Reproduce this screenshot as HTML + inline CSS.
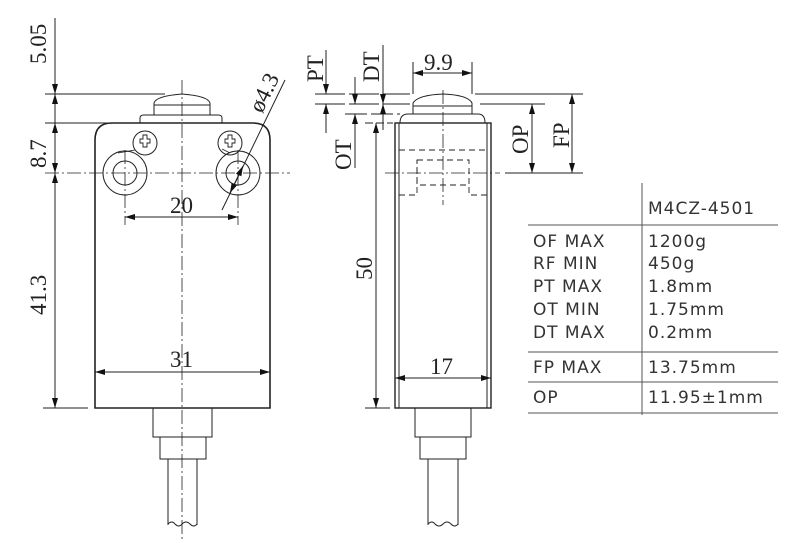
<!DOCTYPE html>
<html><head><meta charset="utf-8"><style>
html,body{margin:0;padding:0;background:#fff;width:800px;height:549px;overflow:hidden}
svg text{font-family:"Liberation Serif",serif;fill:#222}
.t{font-family:"DejaVu Sans","Liberation Sans",sans-serif;font-size:17px;fill:#333;letter-spacing:1px}
</style></head><body>
<svg width="800" height="549" viewBox="0 0 800 549" xmlns="http://www.w3.org/2000/svg">
<defs>
<marker id="a" viewBox="0 0 10 6" refX="10" refY="3" markerWidth="11" markerHeight="6" orient="auto-start-reverse" markerUnits="userSpaceOnUse"><path d="M0,0L10,3L0,6z" fill="#111"/></marker>
</defs>
<g stroke="#222" stroke-width="1" fill="none">
<path d="M95,408 V140 Q95,123 112,123 H253 Q270,123 270,140 V408 Z" stroke-width="1.6"/>
<path d="M140,123 V118 Q140,115 144,115 H218 Q222,115 222,118 V123"/>
<path d="M154,115 V103 Q156,96 182,94 Q208,96 210,103 V115"/>
<line x1="154" y1="105" x2="210" y2="105"/>
<circle cx="125" cy="173" r="22"/><circle cx="125" cy="173" r="12"/>
<circle cx="238" cy="173" r="22"/><circle cx="238" cy="173" r="12"/>
<circle cx="145" cy="143" r="12"/><circle cx="230" cy="143" r="12"/>
<path d="M140,139h3v-4h4v4h3v4h-3v4h-4v-4h-3z M225,139h3v-4h4v4h3v4h-3v4h-4v-4h-3z" stroke-width="0.9"/>
<path d="M135,150 L118,153 M222,149 L230,153" stroke-width="0.8"/>
<rect x="153" y="408" width="59" height="29"/>
<rect x="160" y="437" width="46" height="22"/>
<path d="M168,459 V525 M197,459 V525 M168,524 q4,-4 7,0 q4,4 7,0 q4,-4 8,0 q4,4 7,0" />
<line x1="182" y1="80" x2="182" y2="540" stroke-dasharray="14,3,2,3" stroke-width="0.8"/>
<line x1="45" y1="173" x2="290" y2="173" stroke-dasharray="14,3,2,3" stroke-width="0.8"/>
<line x1="125" y1="150" x2="125" y2="225" stroke-dasharray="14,3,2,3" stroke-width="0.8"/>
<line x1="238" y1="150" x2="238" y2="225" stroke-dasharray="14,3,2,3" stroke-width="0.8"/>
<line x1="45" y1="94" x2="165" y2="94"/>
<line x1="45" y1="123" x2="120" y2="123"/>
<line x1="43" y1="408" x2="88" y2="408"/>
<line x1="55" y1="18" x2="55" y2="94" marker-end="url(#a)"/>
<line x1="55" y1="123" x2="55" y2="94" marker-end="url(#a)"/>
<line x1="55" y1="123" x2="55" y2="173" marker-start="url(#a)" marker-end="url(#a)"/>
<line x1="55" y1="173" x2="55" y2="408" marker-start="url(#a)" marker-end="url(#a)"/>
<line x1="125" y1="217" x2="238" y2="217" marker-start="url(#a)" marker-end="url(#a)"/>
<line x1="95" y1="372" x2="270" y2="372" marker-start="url(#a)" marker-end="url(#a)"/>
<line x1="285" y1="80" x2="222" y2="210"/>
<line x1="230" y1="193" x2="243" y2="166" marker-start="url(#a)" marker-end="url(#a)"/>
<rect x="395" y="123" width="96" height="285" stroke-width="1.4"/>
<line x1="399" y1="123" x2="399" y2="408"/>
<line x1="487" y1="123" x2="487" y2="408"/>
<path d="M400,123 Q400,114 408,114 H478 Q485,114 485,123"/>
<path d="M413,114 V103 Q418,95 443,94 Q468,95 472,103 V114"/>
<line x1="413" y1="106" x2="472" y2="106"/>
<g stroke-dasharray="6,4" stroke-width="0.9">
<line x1="399" y1="150" x2="487" y2="150"/>
<rect x="417" y="160" width="52" height="25"/>
<path d="M399,195 H417 V160 M487,195 H469 V185"/>
</g>
<rect x="415" y="408" width="56" height="29"/>
<rect x="420" y="437" width="46" height="22"/>
<path d="M428,459 V525 M458,459 V525 M428,524 q4,-4 7,0 q4,4 8,0 q4,-4 8,0 q4,4 7,0"/>
<line x1="443" y1="90" x2="443" y2="205" stroke-dasharray="14,3,2,3" stroke-width="0.8"/>
<line x1="385" y1="173" x2="500" y2="173" stroke-dasharray="14,3,2,3" stroke-width="0.8"/>
<line x1="505" y1="173" x2="583" y2="173"/>
<line x1="315" y1="94" x2="410" y2="94" stroke-dasharray="30,4"/>
<line x1="475" y1="94" x2="583" y2="94"/>
<line x1="315" y1="104" x2="410" y2="104" stroke-dasharray="30,4"/>
<line x1="480" y1="104" x2="545" y2="104"/>
<line x1="345" y1="114" x2="400" y2="114" stroke-dasharray="22,4"/>
<line x1="365" y1="123" x2="393" y2="123" stroke-dasharray="8,3"/>
<line x1="365" y1="408" x2="390" y2="408"/>
<line x1="326" y1="50" x2="326" y2="94" marker-end="url(#a)"/>
<line x1="326" y1="133" x2="326" y2="104" marker-end="url(#a)"/>
<line x1="355" y1="77" x2="355" y2="104" marker-end="url(#a)"/>
<line x1="355" y1="168" x2="355" y2="114" marker-end="url(#a)"/>
<line x1="383" y1="45" x2="383" y2="104" marker-end="url(#a)"/>
<line x1="383" y1="130" x2="383" y2="104" marker-end="url(#a)"/>
<line x1="376" y1="123" x2="376" y2="408" marker-start="url(#a)" marker-end="url(#a)"/>
<line x1="413" y1="62" x2="413" y2="94"/><line x1="472" y1="62" x2="472" y2="94"/>
<line x1="413" y1="73" x2="472" y2="73" marker-start="url(#a)" marker-end="url(#a)"/>
<line x1="532" y1="104" x2="532" y2="173" marker-start="url(#a)" marker-end="url(#a)"/>
<line x1="572" y1="94" x2="572" y2="173" marker-start="url(#a)" marker-end="url(#a)"/>
<line x1="395" y1="378" x2="491" y2="378" marker-start="url(#a)" marker-end="url(#a)"/>
<line x1="642" y1="183" x2="642" y2="415" stroke="#555"/>
<line x1="528" y1="225" x2="778" y2="225" stroke="#555"/>
<line x1="528" y1="352" x2="778" y2="352" stroke="#555"/>
<line x1="528" y1="382" x2="778" y2="382" stroke="#555"/>
<line x1="528" y1="413" x2="778" y2="413" stroke="#555"/>
</g>
<g font-size="23">
<text transform="translate(46,64) rotate(-90)">5.05</text>
<text transform="translate(46,168) rotate(-90)">8.7</text>
<text transform="translate(46,315) rotate(-90)">41.3</text>
<text x="170" y="213">20</text>
<text x="170" y="367">31</text>
<text transform="translate(262,114) rotate(-64)">ø4.3</text>
<text transform="translate(323,82) rotate(-90)">PT</text>
<text transform="translate(379,82) rotate(-90)">DT</text>
<text transform="translate(351,170) rotate(-90)">OT</text>
<text transform="translate(372,280) rotate(-90)">50</text>
<text x="424" y="70">9.9</text>
<text transform="translate(528,154) rotate(-90)">OP</text>
<text transform="translate(569,148) rotate(-90)">FP</text>
<text x="430" y="374">17</text>
</g>
<g>
<text x="648" y="214" class="t">M4CZ-4501</text>
<text x="533" y="247" class="t">OF MAX</text><text x="648" y="247" class="t">1200g</text>
<text x="533" y="269" class="t">RF MIN</text><text x="648" y="269" class="t">450g</text>
<text x="533" y="292" class="t">PT MAX</text><text x="648" y="292" class="t">1.8mm</text>
<text x="533" y="315" class="t">OT MIN</text><text x="648" y="315" class="t">1.75mm</text>
<text x="533" y="338" class="t">DT MAX</text><text x="648" y="338" class="t">0.2mm</text>
<text x="533" y="373" class="t">FP MAX</text><text x="648" y="373" class="t">13.75mm</text>
<text x="533" y="403" class="t">OP</text><text x="648" y="403" class="t">11.95±1mm</text>
</g>
</svg>
</body></html>
